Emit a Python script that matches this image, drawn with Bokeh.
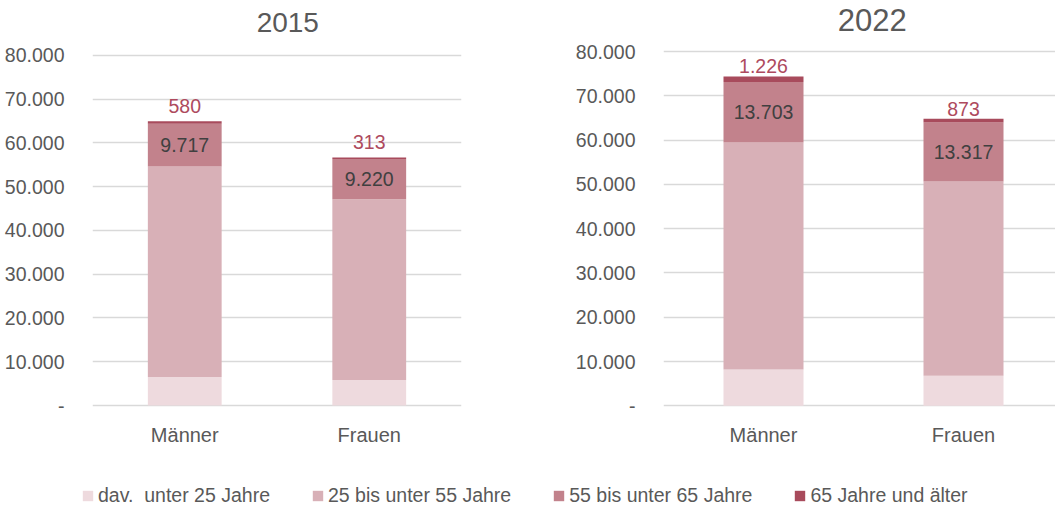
from bokeh.plotting import figure
from bokeh.models import Range1d, FixedTicker, Legend, LegendItem
from bokeh.layouts import column, row
from bokeh.core.properties import value
from bokeh.embed import file_html
from bokeh.resources import INLINE

categories = ["Männer", "Frauen"]
series = ["dav.  unter 25 Jahre", "25 bis unter 55 Jahre", "55 bis unter 65 Jahre", "65 Jahre und älter"]
colors = ["#EEDADE", "#D8B0B7", "#C2828C", "#A84B5C"]

years = ["2015", "2022"]
u25_2015 = [6520, 5840]
b25_55_2015 = [48090, 41270]
b55_65_2015 = [9717, 9220]
a65_2015 = [580, 313]

u25_2022 = [8190, 6770]
b25_55_2022 = [51240, 43860]
b55_65_2022 = [13703, 13317]
a65_2022 = [1226, 873]

y_ticks = [0, 10000, 20000, 30000, 40000, 50000, 60000, 70000, 80000]

FONT = "Liberation Sans"
GREY = "#595959"
DARK = "#404040"
RED_LABEL = "#AE4A5E"
GRID = "#D9D9D9"


def de(v):
    return "-" if v == 0 else f"{v:,}".replace(",", ".")


def make_chart(title, cols, width, height, min_left, min_right, x_end, y_start, y_end,
               min_bottom, title_x, title_y, title_size, top_gap_px):
    p = figure(width=width, height=height, output_backend="svg", toolbar_location=None,
               x_range=Range1d(0, x_end), y_range=Range1d(y_start, y_end),
               min_border_left=min_left, min_border_right=min_right,
               min_border_top=0, min_border_bottom=min_bottom)
    p.outline_line_color = None
    xs = [i + 0.5 for i in range(len(categories))]
    data = {"x": xs}
    for name, vals in zip(series, cols):
        data[name] = vals
    p.vbar_stack(series, x="x", width=0.4, source=data, fill_color=colors,
                 line_color=None)
    u25, b2555, b5565, a65 = cols
    mid = [a + b + c / 2 for a, b, c in zip(u25, b2555, b5565)]
    tot = [a + b + c + d for a, b, c, d in zip(u25, b2555, b5565, a65)]
    # data units per pixel of the frame
    frame_h = height - min_bottom
    upp = (y_end - y_start) / frame_h
    p.text(x=xs, y=mid, text=[de(v) for v in b5565], text_align="center",
           text_baseline="middle", text_font=value(FONT), text_font_size="19.5px",
           text_color=DARK)
    p.text(x=xs, y=[t + top_gap_px * upp for t in tot], text=[de(v) for v in a65],
           text_align="center", text_baseline="middle", text_font=value(FONT),
           text_font_size="19.5px", text_color=RED_LABEL)
    p.text(x=[title_x], y=[title_y], text=[title], text_align="center",
           text_baseline="middle", text_font=value(FONT),
           text_font_size=title_size, text_color=GREY)

    p.xgrid.visible = False
    p.ygrid.ticker = FixedTicker(ticks=y_ticks)
    p.ygrid.grid_line_color = GRID
    p.ygrid.grid_line_width = 1.5

    ya = p.yaxis[0]
    ya.ticker = FixedTicker(ticks=y_ticks)
    ya.major_label_overrides = {t: de(t) for t in y_ticks}
    ya.axis_line_color = None
    ya.major_tick_line_color = None
    ya.minor_tick_line_color = None
    ya.major_label_standoff = 22
    ya.major_label_text_font = FONT
    ya.major_label_text_font_size = "19.5px"
    ya.major_label_text_color = GREY

    xa = p.xaxis[0]
    xa.ticker = FixedTicker(ticks=xs)
    xa.major_label_overrides = {x: c for x, c in zip(xs, categories)}
    xa.axis_line_color = None
    xa.major_tick_line_color = None
    xa.minor_tick_line_color = None
    xa.major_label_standoff = 7
    xa.major_label_text_font = FONT
    xa.major_label_text_font_size = "20px"
    xa.major_label_text_color = GREY
    return p


p1 = make_chart(years[0], [u25_2015, b25_55_2015, b55_65_2015, a65_2015],
                width=560, height=462, min_left=92, min_right=99, x_end=2.0,
                y_start=-1136, y_end=92500, min_bottom=50,
                title_x=1.0585, title_y=87500, title_size="28px", top_gap_px=15.5)
p2 = make_chart(years[1], [u25_2022, b25_55_2022, b55_65_2022, a65_2022],
                width=495, height=462, min_left=103, min_right=0, x_end=1.96,
                y_start=-1061, y_end=91516, min_bottom=52,
                title_x=1.0435, title_y=87113, title_size="31px", top_gap_px=10)

p3 = figure(width=1055, height=45, output_backend="svg", toolbar_location=None,
            x_range=Range1d(0, 1), y_range=Range1d(0, 1), min_border=0)
p3.axis.visible = False
p3.grid.visible = False
p3.outline_line_color = None
items = []
for name, c in zip(series, colors):
    # legend-only renderer: a zero-height bar, so nothing is drawn in the plot
    r = p3.vbar(x=[0.5], top=[0], bottom=[0], width=0.1, fill_color=c, line_color=None)
    items.append(LegendItem(label=name, renderers=[r]))
leg = Legend(items=items, orientation="horizontal", location=(81, 0),
             glyph_width=13, glyph_height=13, label_standoff=4, spacing=41,
             padding=0, margin=0, border_line_color=None,
             background_fill_alpha=0, label_text_font=FONT,
             label_text_font_size="19.5px", label_text_color=GREY,
             label_height=13)
p3.add_layout(leg, "center")

layout = column(row(p1, p2, spacing=0), p3, spacing=0)
open("out.html", "w").write(file_html(layout, INLINE))
